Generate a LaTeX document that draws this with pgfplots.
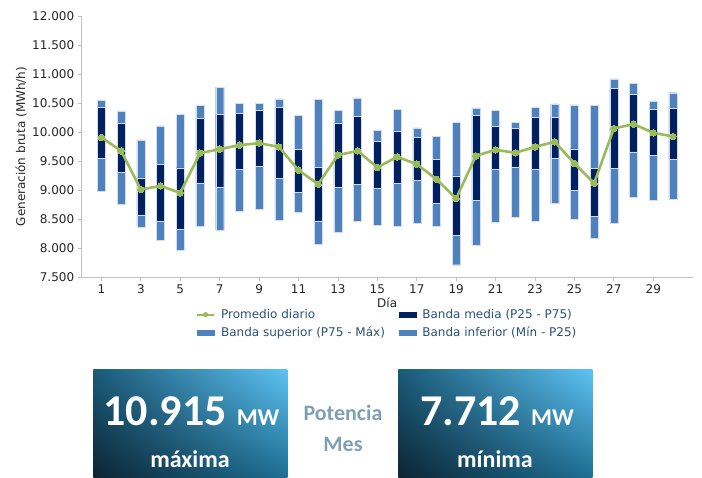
\documentclass[border=0pt]{standalone}
\usepackage{pgfplots}
\pgfplotsset{compat=1.18}
\usepackage{pgfplotstable}
\usetikzlibrary{shadings}
\usepackage{fontspec}
\setmainfont{DejaVu Sans}
\newfontfamily\carlito{Carlito}
\definecolor{lblue}{HTML}{4F81BD}
\definecolor{navy}{HTML}{002060}
\definecolor{pgreen}{HTML}{9BBB59}
\definecolor{axgray}{HTML}{BFBFBF}
\definecolor{txt}{HTML}{262626}
\definecolor{legtxt}{HTML}{2A5275}
\definecolor{potc}{HTML}{7FA0B2}
\definecolor{edge}{HTML}{D0DDF2}
\definecolor{bUL}{HTML}{1A5A78}
\definecolor{bUR}{HTML}{5EC3F4}
\definecolor{bLL}{HTML}{0C2535}
\definecolor{bLR}{HTML}{1E6F93}

\pgfplotstableread{
day min p25 p75 max avg
1 8973 9543 10423 10544 9906
2 8760 9307 10153 10366 9675
3 8363 8571 9209 9865 9008
4 8139 8467 9439 10107 9071
5 7961 8317 9382 10308 8950
6 8375 9123 10239 10458 9635
7 8306 9054 10303 10774 9704
8 8628 9359 10326 10498 9773
9 8668 9411 10377 10498 9808
10 8479 9204 10423 10573 9744
11 8617 8962 9698 10285 9342
12 8059 8467 9388 10567 9100
13 8277 9048 10159 10372 9601
14 8456 9094 10268 10590 9675
15 8392 9031 9836 10026 9388
16 8375 9111 10009 10389 9572
17 8421 9163 9911 10072 9445
18 8375 8766 9532 9929 9186
19 7712 8214 9244 10164 8853
20 8041 8824 10291 10418 9589
21 8444 9359 10101 10372 9693
22 8525 9399 10067 10164 9641
23 8467 9353 10251 10429 9744
24 8766 9549 10257 10487 9831
25 8490 8991 9710 10469 9457
26 8168 8548 9370 10458 9117
27 8421 9376 10757 10915 10061
28 8881 9658 10648 10838 10136
29 8830 9601 10389 10538 9986
30 8841 9532 10412 10677 9923
}\datatable

\begin{document}
\begin{tikzpicture}
\useasboundingbox (0pt,0pt) rectangle (702pt,-477pt);
\begin{axis}[
  at={(81.7pt,-277pt)}, anchor=south west,
  scale only axis, width=611pt, height=261pt,
  xmin=0, xmax=31, ymin=7500, ymax=12000,
  ybar stacked, bar width=8pt,
  axis x line=bottom, axis y line=left,
  axis line style={-, axgray, line width=0.8pt},
  xtick={1,3,...,29}, ytick={7500,8000,...,12000},
  tick align=outside, major tick length=4pt,
  tick style={axgray, line width=0.8pt},
  scaled y ticks=false,
  /pgf/number format/assume math mode=true,
  yticklabel style={/pgf/number format/.cd, fixed, precision=0, 1000 sep={.}},
  ticklabel style={font=\fontsize{12}{14}\selectfont, text=txt},
  xlabel={Día}, ylabel={Generación bruta (MWh/h)},
  label style={font=\fontsize{12}{14}\selectfont, text=txt},
  xlabel style={at={(axis description cs:0.5,-0.115)}, anchor=base},
  ylabel style={at={(axis description cs:-0.0993,0.5)}, anchor=center},
  legend columns=2, legend cell align=left,
  legend style={draw=none, fill=none, at={(axis description cs:0.182,-0.108)}, anchor=north west,
    font=\fontsize{12}{14}\selectfont, text=legtxt,
    nodes={font=\fontsize{12}{14}\selectfont, text=legtxt},
    /tikz/row sep=3pt,
    /tikz/every odd column/.append style={column sep=4pt},
    /tikz/every even column/.append style={column sep=12pt}},
]
\addlegendimage{legend image code/.code={\draw[pgreen, line width=2pt] (0pt,0pt) -- (17pt,0pt); \fill[pgreen] (8.5pt,0pt) circle (2.3pt);}}
\addlegendentry{Promedio diario}
\addlegendimage{legend image code/.code={\fill[navy] (0pt,-2.8pt) rectangle (17pt,2.8pt);}}
\addlegendentry{Banda media (P25 - P75)}
\addlegendimage{legend image code/.code={\fill[lblue] (0pt,-2.8pt) rectangle (17pt,2.8pt);}}
\addlegendentry{Banda superior (P75 - Máx)}
\addlegendimage{legend image code/.code={\fill[lblue] (0pt,-2.8pt) rectangle (17pt,2.8pt);}}
\addlegendentry{Banda inferior (Mín - P25)}
\addplot[draw=none, fill=none, forget plot] table[x=day, y=min]{\datatable};
\addplot[fill=lblue, draw=edge, line width=0.3pt, forget plot] table[x=day, y expr=\thisrow{p25}-\thisrow{min}]{\datatable};
\addplot[fill=navy, draw=edge, line width=0.3pt, forget plot] table[x=day, y expr=\thisrow{p75}-\thisrow{p25}]{\datatable};
\addplot[fill=lblue, draw=edge, line width=0.3pt, forget plot] table[x=day, y expr=\thisrow{max}-\thisrow{p75}]{\datatable};
\end{axis}
\begin{axis}[
  at={(81.7pt,-277pt)}, anchor=south west,
  scale only axis, width=611pt, height=261pt,
  xmin=0, xmax=31, ymin=7500, ymax=12000,
  hide axis,
]
\addplot[pgreen, line width=2.6pt, mark=*, mark size=3.2pt, mark options={fill=pgreen, draw=pgreen, line width=0pt}] table[x=day, y=avg]{\datatable};
\end{axis}
% KPI boxes
\shade[upper left=bUL, upper right=bUR, lower left=bLL, lower right=bLR] (93.3pt,-369pt) rectangle (287.3pt,-477pt);
\shade[upper left=bUL, upper right=bUR, lower left=bLL, lower right=bLR] (398.3pt,-369pt) rectangle (592.3pt,-477pt);
\node[anchor=base west, inner sep=0pt, text=white, font=\carlito\bfseries] at (103.3pt,-425pt)
  {{\fontsize{44}{44}\selectfont 10.915}\hspace{10pt}{\fontsize{24}{24}\selectfont MW}};
\node[anchor=base, inner sep=0pt, text=white, font=\carlito\bfseries\fontsize{24}{24}\selectfont] at (190pt,-467pt) {máxima};
\node[anchor=base west, inner sep=0pt, text=white, font=\carlito\bfseries] at (420pt,-425pt)
  {{\fontsize{44}{44}\selectfont 7.712}\hspace{10pt}{\fontsize{24}{24}\selectfont MW}};
\node[anchor=base, inner sep=0pt, text=white, font=\carlito\bfseries\fontsize{24}{24}\selectfont] at (495pt,-467pt) {mínima};
\node[anchor=base, inner sep=0pt, text=potc, font=\carlito\bfseries\fontsize{22}{22}\selectfont] at (343pt,-420pt) {Potencia};
\node[anchor=base, inner sep=0pt, text=potc, font=\carlito\bfseries\fontsize{22}{22}\selectfont] at (343pt,-451.7pt) {Mes};
\end{tikzpicture}
\end{document}
